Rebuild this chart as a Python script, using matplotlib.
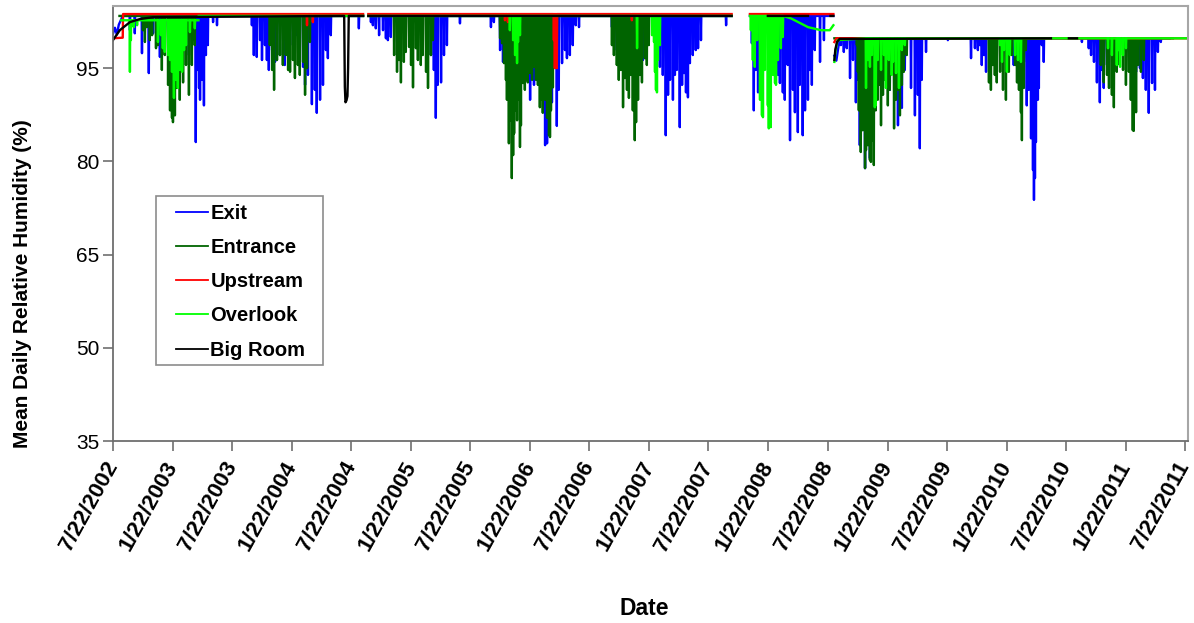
import numpy as np
import pandas as pd
import matplotlib
matplotlib.use('Agg')
import matplotlib.pyplot as plt
from matplotlib.patches import Rectangle

plt.rcParams['font.family'] = ['Liberation Sans', 'DejaVu Sans']

# day 0 = first record
start = pd.Timestamp('2002-07-22')

tick_labels = ['7/22/2002', '1/22/2003', '7/22/2003', '1/22/2004', '7/22/2004',
               '1/22/2005', '7/22/2005', '1/22/2006', '7/22/2006', '1/22/2007',
               '7/22/2007', '1/22/2008', '7/22/2008', '1/22/2009', '7/22/2009',
               '1/22/2010', '7/22/2010', '1/22/2011', '7/22/2011']
y_ticks = [35, 50, 65, 80, 95]

# --- Exit ---------------------------------------------------------------
# (first day, last day, plateau RH) of each logging period
exit_segments = [(0, 767, 103.4), (783, 1897, 103.4), (1953, 2209, 103.4), (2212, 3240, 99.8)]
exit_shape_day = [0, 6, 12, 18, 30, 2212, 2218, 2226]
exit_shape_rh = [100.5, 101.5, 100.4, 102.0, 103.4, 97.0, 96.2, 99.0]
exit_dip_day = [52, 67, 89, 110, 123, 135, 144, 159, 190, 212, 233, 245, 254, 258, 264, 267,
                273, 279, 285, 291, 307, 319,
                426, 432, 441, 451, 457, 466, 472, 478, 488, 497, 512, 527, 543, 564, 583, 589,
                598, 610, 619, 625, 635, 644, 653, 659, 668, 754,
                791, 797, 806, 816, 828, 837, 843, 852, 975, 984, 990, 996, 1006, 1015, 1024, 1064,
                1159, 1168, 1187, 1196, 1202, 1266, 1279, 1291, 1306, 1325, 1331, 1337, 1346,
                1361, 1367, 1377, 1386, 1392, 1401, 1410, 1419, 1429,
                1530, 1545, 1576, 1607, 1625, 1665, 1677, 1686, 1695, 1702, 1708, 1717, 1723,
                1729, 1738, 1745, 1751, 1757, 1763, 1769, 1778, 1787, 1794, 1803, 1880,
                1959, 1965, 1971, 1978, 1987, 2024, 2039, 2045, 2054, 2060, 2069, 2076, 2085,
                2091, 2100, 2106, 2115, 2122, 2131, 2137, 2143, 2152, 2168, 2180,
                2232, 2241, 2250, 2260, 2269, 2278, 2284, 2290, 2296, 2306, 2312, 2321, 2330,
                2339, 2364, 2382, 2407, 2419, 2428, 2447, 2459, 2468, 2474, 2480, 2493, 2560, 2631,
                2643, 2652, 2658, 2664, 2671, 2677, 2689, 2698, 2707, 2741, 2762, 2775, 2793,
                2802, 2808, 2815, 2821, 2824, 2827, 2830, 2836, 2839, 2848, 2854,
                2971, 2992, 2999, 3008, 3017, 3026, 3032, 3038, 3048, 3069, 3118, 3130, 3137,
                3149, 3158, 3167, 3176, 3186, 3195, 3204, 3213]
exit_dip_rh = [101.1, 100.6, 97.4, 94.2, 100.6, 98.7, 96.8, 100.3, 101.1, 100.0, 97.1, 99.5, 83.1, 94.7, 91.8, 89.9,
               93.1, 89.0, 97.1, 98.7, 102.4, 101.9,
               101.9, 97.1, 96.8, 99.5, 96.3, 98.7, 96.3, 94.7, 97.9, 96.0, 97.1, 95.5, 98.7, 100.3, 95.2, 92.3,
               93.9, 89.2, 91.5, 87.8, 89.9, 92.3, 97.9, 96.6, 100.3, 101.4,
               102.4, 101.9, 101.4, 100.3, 101.1, 99.8, 99.5, 100.0, 97.1, 94.7, 87.0, 92.3, 92.7, 97.1, 98.7, 102.2,
               101.6, 102.4, 97.9, 96.0, 98.7, 93.9, 89.9, 92.3, 92.3, 82.6, 82.9, 88.2, 89.5,
               85.7, 91.5, 95.8, 97.9, 96.6, 97.1, 98.7, 101.9, 101.6,
               101.6, 97.9, 95.2, 91.9, 96.3, 97.1, 95.2, 93.9, 84.2, 90.7, 93.1, 89.9, 93.9,
               94.7, 85.5, 92.3, 94.2, 91.1, 90.3, 95.8, 97.1, 97.9, 98.2, 99.5, 101.9,
               99.0, 88.2, 94.7, 91.1, 97.1, 95.2, 93.9, 92.6, 91.1, 89.9, 95.5, 83.4, 91.5,
               87.9, 84.7, 92.3, 84.2, 88.2, 89.9, 94.7, 92.3, 97.9, 96.0, 99.5,
               98.7, 97.6, 98.2, 93.4, 96.3, 89.5, 93.1, 82.6, 86.6, 78.9, 83.4, 80.5, 85.0,
               91.5, 93.9, 91.5, 85.8, 88.6, 94.7, 91.8, 87.4, 90.7, 82.1, 93.1, 97.6, 99.5, 96.6,
               98.2, 97.9, 98.7, 95.5, 97.1, 94.4, 97.9, 98.2, 96.3, 98.7, 95.5, 97.1, 96.0,
               89.0, 91.5, 83.7, 78.6, 73.8, 77.3, 83.1, 89.9, 91.8, 98.7, 96.0,
               99.2, 98.2, 97.1, 96.0, 92.7, 89.5, 94.7, 91.8, 95.5, 97.1, 97.1, 95.5, 94.4,
               95.0, 93.4, 91.5, 87.8, 92.6, 91.5, 97.6, 99.2]

# --- Entrance -----------------------------------------------------------
entrance_segments = [(20, 767, 103.4), (783, 1897, 103.4), (2212, 3250, 99.8)]
entrance_dip_day = [92, 98, 104, 113, 120, 132, 138, 150, 159, 169, 175, 181, 184, 190, 196, 205,
                    215, 224, 233, 242, 251,
                    481, 488, 494, 503, 512, 521, 530, 537, 543, 552, 558, 567, 573, 583, 589, 595, 604,
                    862, 871, 877, 883, 892, 898, 908, 914, 920, 929, 935, 944, 950, 960, 966, 975, 981,
                    1187, 1193, 1199, 1205, 1208, 1214, 1217, 1223, 1227, 1230, 1236, 1239, 1245,
                    1248, 1251, 1257, 1263, 1269, 1272, 1279, 1285, 1291, 1297, 1303, 1309, 1315,
                    1318, 1325, 1331, 1337, 1340, 1343, 1349, 1355, 1361,
                    1530, 1536, 1545, 1551, 1557, 1564, 1570, 1576, 1582, 1588, 1594, 1600, 1604,
                    1610, 1616, 1622, 1631, 1637, 1643,
                    2281, 2284, 2287, 2293, 2299, 2306, 2309, 2315, 2321, 2324, 2330, 2333, 2339,
                    2345, 2352, 2355, 2361, 2367, 2376, 2382, 2388, 2395, 2401, 2407, 2413, 2419,
                    2425, 2434,
                    2686, 2692, 2698, 2704, 2710, 2720, 2729, 2738, 2747, 2756, 2766, 2772, 2778,
                    2784, 2787, 2793, 2799,
                    3029, 3038, 3048, 3054, 3063, 3069, 3078, 3087, 3097, 3106, 3115, 3121, 3127,
                    3130, 3137, 3143, 3152, 3161]
entrance_dip_rh = [101.1, 99.2, 101.6, 99.5, 100.3, 98.2, 98.7, 94.7, 97.1, 92.3, 88.2, 87.0, 86.3, 87.4, 91.8, 89.9,
                   92.7, 95.5, 90.7, 95.5, 98.7,
                   98.7, 94.7, 91.5, 96.3, 97.1, 95.5, 97.1, 94.7, 94.4, 96.3, 93.4, 95.5, 93.9, 96.0, 90.7, 95.0, 99.2,
                   97.1, 94.4, 96.3, 92.7, 96.0, 97.6, 98.4, 95.5, 91.9, 98.2, 96.3, 95.5, 97.1, 94.4, 91.8, 97.1, 99.5,
                   99.8, 99.0, 95.8, 93.1, 89.9, 82.9, 86.6, 77.3, 81.0, 84.5, 88.2, 86.6, 89.9,
                   82.3, 85.8, 92.6, 91.5, 93.1, 92.7, 94.2, 93.1, 95.2, 93.1, 92.3, 88.7, 89.9,
                   87.8, 89.9, 87.0, 84.2, 83.9, 88.2, 91.9, 96.3, 99.5,
                   98.7, 97.1, 95.5, 93.1, 94.7, 88.7, 93.4, 91.5, 90.2, 93.9, 88.2, 83.4, 86.3,
                   89.9, 93.9, 92.7, 96.6, 95.5, 98.7,
                   98.7, 94.4, 88.2, 81.5, 85.0, 78.9, 81.8, 82.6, 80.2, 79.9, 83.4, 79.4, 88.2,
                   89.9, 92.3, 85.8, 90.7, 93.1, 89.0, 91.5, 94.4, 85.3, 89.9, 91.5, 87.4, 92.3,
                   94.4, 97.1,
                   92.7, 91.5, 95.5, 93.9, 92.7, 94.4, 91.5, 89.9, 94.4, 97.1, 95.5, 92.7, 91.5,
                   87.9, 83.4, 91.8, 97.9,
                   95.5, 92.7, 93.9, 91.8, 90.7, 88.7, 94.4, 95.5, 94.7, 92.3, 94.4, 89.9, 85.0,
                   84.9, 87.9, 95.5, 94.4, 96.3]

# --- Upstream -----------------------------------------------------------
upstream_segments = [(0, 767, 103.7), (783, 1897, 103.7), (1953, 2209, 103.7), (2212, 3302, 99.8)]
upstream_shape_day = [0, 30, 31, 2212, 2218]
upstream_shape_rh = [99.8, 99.9, 103.7, 99.2, 99.8]
upstream_dip_day = [595, 613, 1202, 1211, 1352, 1355, 1358, 1361, 1591]
upstream_dip_rh = [101.9, 102.4, 102.7, 102.4, 99.5, 95.0, 95.3, 95.0, 102.7]

# --- Overlook -----------------------------------------------------------
overlook_segments = [(25, 262, 102.7), (263, 767, 103.4), (783, 1897, 103.4), (1953, 2209, 103.4),
                     (2212, 3302, 99.8)]
overlook_shape_day = [2079, 2131, 2171, 2198, 2209, 2212, 2216, 2222]
overlook_shape_rh = [103.0, 101.6, 101.1, 101.1, 101.9, 96.0, 98.0, 99.5]
overlook_dip_day = [52, 55, 64, 74, 138, 147, 153, 159, 169, 175, 181, 187, 193, 199, 205, 212,
                    218, 224, 236, 251,
                    1217, 1227, 1233, 1239, 1242, 1248, 1607,
                    1653, 1659, 1662, 1665, 1668, 1671, 1677,
                    1956, 1962, 1968, 1975, 1984, 1990, 1993, 1999, 2008, 2011, 2017, 2024, 2030,
                    2033, 2039, 2048, 2054,
                    2309, 2315, 2321, 2327, 2336, 2339, 2345, 2355, 2364, 2370, 2379, 2388, 2392,
                    2401, 2410, 2419, 2428,
                    2720, 2726, 2732, 2741, 2750, 2766, 2775, 2784,
                    3051, 3063, 3078, 3084, 3088, 3097, 3106]
overlook_dip_rh = [94.4, 99.5, 101.6, 101.9, 99.2, 100.3, 98.2, 97.6, 97.1, 96.3, 94.4, 90.2, 93.1, 91.8, 94.7, 94.4,
                   97.9, 98.7, 100.8, 101.4,
                   101.1, 99.5, 97.1, 95.8, 99.2, 100.3, 98.2,
                   100.3, 99.2, 94.4, 91.5, 91.1, 96.3, 98.7,
                   101.1, 96.3, 95.2, 99.5, 89.9, 87.4, 87.1, 94.7, 89.0, 85.3, 85.5, 93.9, 92.6,
                   92.3, 96.3, 98.2, 100.0,
                   91.8, 96.3, 95.2, 97.1, 88.7, 89.0, 96.3, 94.7, 97.1, 91.8, 96.3, 93.9, 96.0,
                   94.2, 91.8, 97.9, 98.7,
                   98.7, 96.0, 97.9, 94.4, 97.1, 97.1, 96.3, 96.0,
                   98.2, 97.1, 95.5, 97.9, 95.2, 97.1, 98.2]

# --- Big Room -----------------------------------------------------------
bigroom_segments = [(0, 767, 103.4), (783, 1897, 103.4), (2008, 2131, 103.4), (2200, 2209, 103.4),
                    (2212, 2876, 99.8), (2931, 2956, 99.8)]
bigroom_shape_day = [0, 21, 52, 83, 123, 709, 711, 713, 716, 719, 721, 723, 2212, 2215, 2220, 2228]
bigroom_shape_rh = [99.5, 101.1, 102.4, 102.9, 103.2, 103.4, 92.0, 89.5, 89.8, 90.5, 95.0, 103.4,
                    96.3, 98.0, 99.2, 99.7]
bigroom_dip_day = []
bigroom_dip_rh = []


def build(segments, shape_day, shape_rh, dip_day, dip_rh):
    days, rh = [], []
    for s, e, base in segments:
        pts = {s: base, e: base}
        for d, v in zip(shape_day, shape_rh):
            if s <= d <= e:
                pts[d] = v
        for d, v in zip(dip_day, dip_rh):
            if s <= d <= e:
                pts.setdefault(d - 1, base)
                pts.setdefault(d + 1, base)
                pts[d] = v
        for d in sorted(pts):
            days.append(d)
            rh.append(pts[d])
        days.append(e + 1)
        rh.append(np.nan)
    x = start + pd.to_timedelta(np.array(days, dtype=float), unit='D')
    return x, np.array(rh)


series = [
    ('Exit', '#0000FF', exit_segments, exit_shape_day, exit_shape_rh, exit_dip_day, exit_dip_rh),
    ('Entrance', '#006400', entrance_segments, [], [], entrance_dip_day, entrance_dip_rh),
    ('Upstream', '#FF0000', upstream_segments, upstream_shape_day, upstream_shape_rh,
     upstream_dip_day, upstream_dip_rh),
    ('Overlook', '#00FF00', overlook_segments, overlook_shape_day, overlook_shape_rh,
     overlook_dip_day, overlook_dip_rh),
    ('Big Room', '#000000', bigroom_segments, bigroom_shape_day, bigroom_shape_rh,
     bigroom_dip_day, bigroom_dip_rh),
]

fig = plt.figure(figsize=(11.94, 6.23), dpi=100)
ax = fig.add_axes([0.0946, 0.2921, 0.9003, 0.6983])

for name, color, seg, sd, sr, dd, dr in series:
    x, y = build(seg, sd, sr, dd, dr)
    ax.plot(x, y, color=color, lw=1.7, label=name)

ax.set_ylim(35, 105)
ax.set_yticks(y_ticks)
ax.set_xlim(start, start + pd.Timedelta(days=3296))
ax.set_xticks(pd.to_datetime(tick_labels, format='%m/%d/%Y'))
ax.set_xticklabels(tick_labels, rotation=61, ha='right', va='center',
                   rotation_mode='anchor', fontsize=16, fontweight='bold')
ax.tick_params(axis='y', labelsize=15, direction='out', length=7, width=1.2,
               color='#707070', pad=3)
ax.tick_params(axis='x', direction='out', length=7, width=1.2, color='#707070', pad=9)

for side in ['left', 'bottom']:
    ax.spines[side].set_color('#6E6E6E')
    ax.spines[side].set_linewidth(1.3)
for side in ['top', 'right']:
    ax.spines[side].set_color('#A6A6A6')
    ax.spines[side].set_linewidth(1.5)

ax.set_ylabel('Mean Daily Relative Humidity (%)', fontsize=15, fontweight='bold')
ax.yaxis.set_label_coords(-0.075, 0.362)
ax.set_xlabel('Date', fontsize=16.5, fontweight='bold')
ax.xaxis.set_label_coords(0.4944, -0.358)

leg = ax.legend(loc='upper left', bbox_to_anchor=(0.0512, 0.563), frameon=False,
                prop={'size': 14.5, 'weight': 'bold'}, handlelength=1.6,
                handletextpad=0.1, labelspacing=0.75, borderaxespad=0)
for h in leg.get_lines():
    h.set_linewidth(1.3)
ax.add_patch(Rectangle((0.040, 0.175), 0.155, 0.388, transform=ax.transAxes,
                       fill=False, edgecolor='#8C8C8C', lw=1.2, zorder=5))

fig.savefig('out.png', dpi=100)
